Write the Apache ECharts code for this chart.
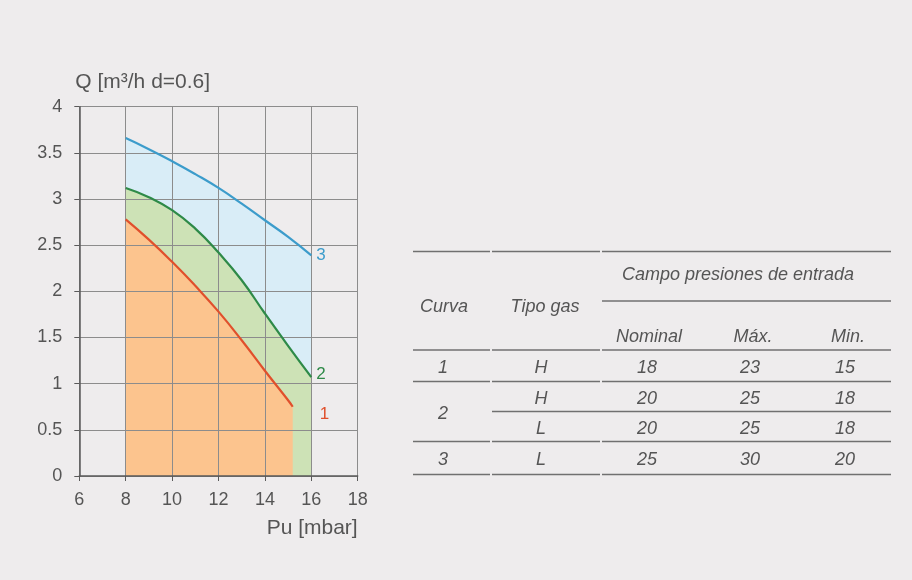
<!DOCTYPE html>
<html>
<head>
<meta charset="utf-8">
<script src="https://cdn.jsdelivr.net/npm/echarts@6/dist/echarts.min.js"></script>
<style>
html,body{margin:0;padding:0;background:#eeeced;}
#c{width:912px;height:580px;}
</style>
</head>
<body>
<div id="c"></div>
<script>
// ---- chart data ----
var pressure = [8, 9, 10, 11, 12, 13, 14, 15, 16];
var curve3 = [3.66, 3.54, 3.41, 3.27, 3.12, 2.95, 2.77, 2.59, 2.39];
var curve2 = [3.12, 3.02, 2.88, 2.68, 2.42, 2.12, 1.76, 1.41, 1.07];
var pressure1 = [8, 9, 10, 11, 12, 13, 14, 15, 15.2];
var curve1 = [2.78, 2.56, 2.32, 2.06, 1.78, 1.47, 1.14, 0.82, 0.75];
var curveNames = ['1', '2', '3'];
var xTitle = 'Pu [mbar]';
var yTitle = 'Q [m\u00B3/h d=0.6]';

// ---- table data ----
var tblCurva = 'Curva';
var tblTipo = 'Tipo gas';
var tblGroup = 'Campo presiones de entrada';
var tblSub = ['Nominal', 'Máx.', 'Min.'];
var rowCurva = ['1', '2', '2', '3'];
var rowGas = ['H', 'H', 'L', 'L'];
var rowNominal = [18, 20, 20, 25];
var rowMax = [23, 25, 25, 30];
var rowMin = [15, 18, 18, 20];

function pairs(xs, ys) { return xs.map(function (x, i) { return [x, ys[i]]; }); }

var textColor = '#555';
var fontFam = '"Liberation Sans", Arial, sans-serif';

var colors = {
  '3': { line: '#3c9ccb', fill: '#d9edf7' },
  '2': { line: '#2e8a48', fill: '#cde2b6' },
  '1': { line: '#e0502c', fill: '#fcc48e' }
};

function areaSeries(name, data) {
  return {
    type: 'line', name: name + 'a', data: data, z: 1, silent: true,
    symbol: 'none', smooth: true, lineStyle: { width: 0 },
    areaStyle: { color: colors[name].fill, opacity: 1 }
  };
}
function lineSeries(name, data, offset) {
  return {
    type: 'line', name: name, data: data, z: 3, symbol: 'none', smooth: true,
    lineStyle: { width: 2.2, color: colors[name].line },
    endLabel: {
      show: true, formatter: name, color: colors[name].line, fontSize: 17,
      fontFamily: fontFam, distance: 5, offset: offset
    }
  };
}

// ---- table graphic ----
var g = [];
var lineColor = '#707070';
function hline(x1, x2, y) {
  g.push({ type: 'line', silent: true, shape: { x1: x1, y1: y, x2: x2, y2: y },
    style: { stroke: lineColor, lineWidth: 1.4 } });
}
function fullLine(y) { hline(413, 490, y); hline(492, 600, y); hline(602, 891, y); }
function txt(s, x, y) {
  g.push({ type: 'text', silent: true, style: { text: String(s), x: x, y: y,
    align: 'center', verticalAlign: 'middle', fill: textColor,
    fontSize: 18, fontStyle: 'italic', fontFamily: fontFam } });
}
fullLine(251.5);
hline(602, 891, 301);
fullLine(350);
fullLine(381.5);
hline(492, 891, 411.5);
fullLine(441.5);
fullLine(474.5);

txt(tblGroup, 738, 275);
txt(tblCurva, 444, 307);
txt(tblTipo, 545, 307);
var subX = [649, 753, 848];
tblSub.forEach(function (s, i) { txt(s, subX[i], 337); });
var rowY = [367.5, 398.5, 428.5, 459.5];
var colX = [647, 750, 845];
rowCurva.forEach(function (c, i) {
  if (i === 1) txt(c, 443, 414);
  else if (i !== 2) txt(c, 443, rowY[i]);
});
rowGas.forEach(function (s, i) { txt(s, 541, rowY[i]); });
rowNominal.forEach(function (v, i) { txt(v, colX[0], rowY[i]); });
rowMax.forEach(function (v, i) { txt(v, colX[1], rowY[i]); });
rowMin.forEach(function (v, i) { txt(v, colX[2], rowY[i]); });

var chart = echarts.init(document.getElementById('c'), null, { renderer: 'canvas' });
chart.setOption({
  backgroundColor: '#eeeced',
  animation: false,
  grid: { left: 79.3, right: 554.3, top: 106.7, bottom: 104, containLabel: false },
  xAxis: {
    type: 'value', min: 6, max: 18, interval: 2, z: 2,
    name: xTitle, nameLocation: 'end', nameGap: 0,
    nameTextStyle: { color: textColor, fontSize: 21, fontFamily: fontFam,
      align: 'right', verticalAlign: 'top', padding: [42, 0, 0, 0] },
    axisLine: { show: true, onZero: false, lineStyle: { color: '#5a5a5a', width: 1.5 } },
    axisTick: { show: true, length: 5, lineStyle: { color: '#5a5a5a' } },
    axisLabel: { color: textColor, fontSize: 18, fontFamily: fontFam, margin: 15 },
    splitLine: { show: true, lineStyle: { color: '#8c8c8c', width: 1 } }
  },
  yAxis: {
    type: 'value', min: 0, max: 4, interval: 0.5, z: 2,
    name: yTitle, nameLocation: 'end', nameGap: 14,
    nameTextStyle: { color: textColor, fontSize: 21, fontFamily: fontFam,
      align: 'left', verticalAlign: 'bottom', padding: [0, 0, 0, -4] },
    axisLine: { show: true, lineStyle: { color: '#5a5a5a', width: 1.5 } },
    axisTick: { show: true, length: 5, lineStyle: { color: '#5a5a5a' } },
    axisLabel: { color: textColor, fontSize: 18, fontFamily: fontFam, margin: 17 },
    splitLine: { show: true, lineStyle: { color: '#8c8c8c', width: 1 } }
  },
  series: [
    areaSeries('3', pairs(pressure, curve3)),
    areaSeries('2', pairs(pressure, curve2)),
    areaSeries('1', pairs(pressure1, curve1)),
    lineSeries('3', pairs(pressure, curve3), [0, 0]),
    lineSeries('2', pairs(pressure, curve2), [0, -3]),
    lineSeries('1', pairs(pressure1, curve1), [22, 8])
  ],
  graphic: g
});
</script>
</body>
</html>
